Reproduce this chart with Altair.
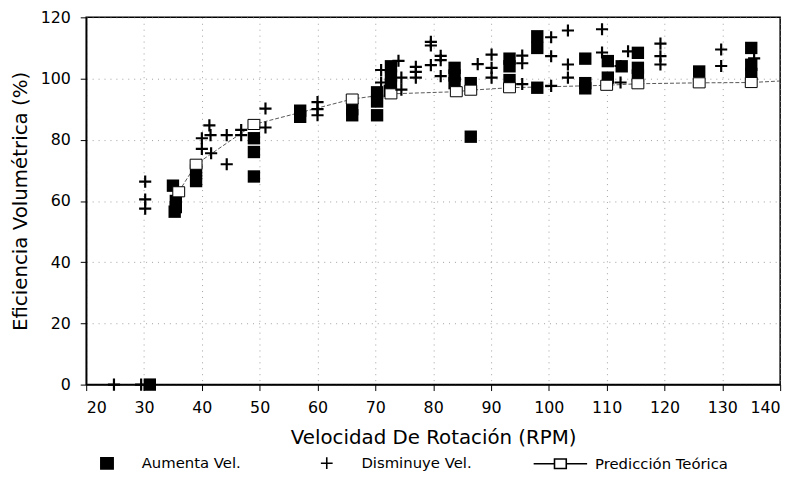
import altair as alt
import pandas as pd

# ---- data ----
aum_x = [31, 35, 35.5, 35.5, 35.3, 39, 39, 49, 49, 49, 57, 57, 66, 66,
         70.3, 70.3, 70.3, 72.7, 72.7, 72.7, 72.5, 83.7, 83.7, 83.7, 86.5, 86.5,
         93.2, 93.2, 93.2, 98, 98, 98, 106.3, 106.3, 106.3, 110.2, 110.2, 112.6,
         115.4, 115.4, 115.4, 126, 135, 135, 135]
aum_y = [0, 65, 60, 58, 56.5, 70, 66.5, 80.5, 76, 68, 89.5, 87.5, 90, 88,
         95.5, 92.5, 88, 104, 101, 98, 96, 103.5, 101, 98.5, 98.5, 81,
         106.5, 104, 99.5, 113.8, 110, 97, 106.5, 98.5, 96.8, 105.7, 100.3, 104,
         108.4, 103.5, 101, 102.3, 110, 104.5, 101.5]

dis_x = [24.8, 29.5, 30.2, 30.2, 30.2, 41.3, 40, 41.5, 40, 41.6, 44.3, 44.3,
         46.8, 46.8, 51, 51, 60, 60, 60, 71, 71, 74, 74.5, 74.5, 77, 77, 77,
         79.6, 79.6, 79.6, 81.3, 81.3, 81.3, 87.7, 90.1, 90.1, 90.1,
         95.4, 95.4, 95.4, 100.4, 100.4, 100.4, 103.3, 103.3, 103.3,
         109.2, 109.2, 112.4, 112.4, 113.7, 119.3, 119.3, 119.3, 129.8, 129.8, 135.5]
dis_y = [0, 0, 66.3, 60.5, 57.5, 84.7, 80.5, 81.5, 77, 75.6, 81.5, 72,
         83.2, 81.5, 90.2, 84, 92.3, 90, 88, 102.8, 98.7, 105.8, 100.3, 96.4,
         103.8, 102.2, 100.3, 112, 110.8, 104.4, 107.4, 106, 100.8, 104.7,
         107.8, 103.5, 100.3, 107.5, 105, 98.2, 113.5, 107.3, 97.6,
         115.7, 104.6, 100.3, 116.1, 108.5, 104.1, 98.7, 108.9,
         111.4, 107.3, 104.6, 109.5, 104.1, 106.6]

teo_x = [36, 39, 49, 66, 72.7, 84, 86.5, 93.2, 110, 115.4, 126, 135]
teo_y = [63, 72, 85, 93.3, 95, 95.7, 96.2, 97, 97.8, 98.3, 98.6, 98.7]
teo_line_x = teo_x + [140]
teo_line_y = teo_y + [99.2]

series = ["Aumenta Vel.", "Disminuye Vel.", "Predicción Teórica"]

aum = pd.DataFrame({"x": aum_x, "y": aum_y})
dis = pd.DataFrame({"x": dis_x, "y": dis_y})
teo = pd.DataFrame({"x": teo_x, "y": teo_y})
teo_line = pd.DataFrame({"x": teo_line_x, "y": teo_line_y})
leg = pd.DataFrame({"s": series})

FONT = "DejaVu Sans"

xs = alt.Scale(domain=[20, 140], nice=False, zero=False)
ys = alt.Scale(domain=[0, 120], nice=False)

xenc = alt.X("x:Q", scale=xs, title="Velocidad De Rotación (RPM)",
             axis=alt.Axis(values=list(range(20, 141, 10)), titlePadding=13,
                           labelPadding=9))
yenc = alt.Y("y:Q", scale=ys, title="Eficiencia Volumétrica (%)",
             axis=alt.Axis(values=list(range(0, 121, 20)), titlePadding=10,
                           labelPadding=10))

line = alt.Chart(teo_line).mark_line(color="#444", strokeWidth=0.9,
                                     strokeDash=[4, 2]).encode(x=xenc, y=yenc)

sq = alt.Chart(aum).mark_point(shape="square", filled=True, size=156,
                               color="black", opacity=1).encode(x="x:Q", y="y:Q")

teo_pts = alt.Chart(teo).mark_point(shape="M-1,-0.85L1,-0.85L1,0.85L-1,0.85Z",
                                    size=144, fill="white", stroke="black",
                                    strokeWidth=1, opacity=1).encode(x="x:Q", y="y:Q")

plus = alt.Chart(dis).mark_point(shape="M-1,0L1,0M0,-1L0,1", size=150,
                                 filled=False, color="black", strokeWidth=2.2,
                                 opacity=1).encode(x="x:Q", y="y:Q")

shapes = [
    "M-0.23,-0.21L0.23,-0.21L0.23,0.21L-0.23,0.21Z",
    "M-0.22,0L0.22,0M0,-0.22L0,0.22",
    "M-1,0L-0.22,0M0.22,0L1,0M-0.22,-0.18L0.22,-0.18L0.22,0.18L-0.22,0.18Z",
]
leg_props = dict(orient="none", legendX=-7, legendY=422,
                 direction="horizontal", title=None,
                 columnPadding=58, labelOffset=7,
                 symbolSize=2916, symbolStrokeWidth=1.6, symbolOpacity=1,
                 labelFont=FONT, labelFontSize=15, labelColor="black")

legend_layer = alt.Chart(leg).transform_filter("false").mark_point(
    size=2916, filled=False, strokeWidth=1.6, opacity=1
).encode(
    x=alt.value(0), y=alt.value(0),
    shape=alt.Shape("s:N", scale=alt.Scale(domain=series, range=shapes),
                    legend=alt.Legend(**leg_props)),
    fill=alt.Fill("s:N", scale=alt.Scale(domain=series, range=["black", "black", "white"]),
                  legend=alt.Legend(**leg_props)),
    stroke=alt.Stroke("s:N", scale=alt.Scale(domain=series, range=["black", "black", "black"]),
                      legend=alt.Legend(**leg_props)),
)

chart = alt.layer(line, sq, teo_pts, plus, legend_layer).properties(
    width=701, height=371,
    autosize=alt.AutoSizeParams(type="none"),
    padding={"left": 79, "top": 7, "right": 15, "bottom": 100},
    background="white",
).configure_view(
    stroke="black", strokeWidth=1.5
).configure_axis(
    labelFont=FONT, titleFont=FONT, labelFontSize=16, titleFontSize=20,
    titleFontWeight="normal", labelColor="black", titleColor="black",
    domainColor="black", domainWidth=1.5, tickColor="black", tickSize=6,
    tickWidth=1, grid=True, gridColor="#888", gridDash=[1, 5], gridWidth=1,
    gridOpacity=0.8,
)

chart.save("out.html", embed_options={"renderer": "svg", "actions": False})
